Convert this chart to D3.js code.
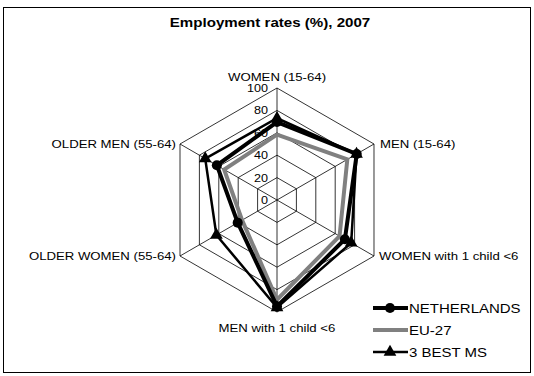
<!DOCTYPE html>
<html>
<head>
<meta charset="utf-8">
<script src="https://cdn.jsdelivr.net/npm/d3@7"></script>
<style>
  html, body { margin: 0; padding: 0; background: #fff; }
  svg { display: block; font-family: "Liberation Sans", Arial, sans-serif; }
</style>
</head>
<body>
<svg id="chart" width="534" height="376"></svg>
<script>
// Axes of the radar, clockwise from the top
const categories = [
  "WOMEN (15-64)",
  "MEN (15-64)",
  "WOMEN with 1 child <6",
  "MEN with 1 child <6",
  "OLDER WOMEN (55-64)",
  "OLDER MEN (55-64)"
];
const netherlands = [69.6, 82.2, 70.0, 95.0, 40.5, 62.0];
const eu27 = [58.3, 72.5, 64.5, 89.0, 36.0, 54.5];
const best3 = [73.0, 82.0, 76.5, 96.0, 62.5, 74.0];
const tickValues = [0, 20, 40, 60, 80, 100];
const seriesNames = ["NETHERLANDS", "EU-27", "3 BEST MS"];

const svg = d3.select("#chart");
const W = 534, H = 376;
const cx = 277, cy = 200;

// text drawn with a slightly wide set width
function addText(parent, x, y, str, size, anchor, opts = {}) {
  return parent.append("text")
    .attr("transform", `translate(${x},${y}) scale(${opts.sx || 1.2},1)`)
    .attr("text-anchor", anchor)
    .attr("font-size", size)
    .attr("font-weight", opts.bold ? "bold" : null)
    .attr("fill", "#000")
    .text(str);
}

// outer frame
svg.append("rect")
  .attr("x", 3.5).attr("y", 7.5).attr("width", W - 7).attr("height", H - 11)
  .attr("fill", "none").attr("stroke", "#000").attr("stroke-width", 1);

addText(svg, 270, 27, "Employment rates (%), 2007", 12, "middle", { bold: true, sx: 1.26 });

const r = d3.scaleLinear().domain([0, 100]).range([0, 112]);
const angle = d3.scalePoint().domain(categories).range([0, 300]);
const point = (cat, v) => {
  const a = angle(cat) * Math.PI / 180;
  return [cx + r(v) * Math.sin(a), cy - r(v) * Math.cos(a)];
};

const g = svg.append("g");

// concentric hexagon rings
tickValues.filter(t => t > 0).forEach(t => {
  g.append("path")
    .attr("d", d3.line()(categories.map(c => point(c, t))) + "Z")
    .attr("fill", "none").attr("stroke", "#000").attr("stroke-width", 0.8);
});
// spokes
categories.forEach(c => {
  const [x, y] = point(c, 100);
  g.append("line").attr("x1", cx).attr("y1", cy).attr("x2", x).attr("y2", y)
    .attr("stroke", "#000").attr("stroke-width", 0.8);
});

// ring labels along the top spoke
tickValues.forEach(t => {
  const [x, y] = point(categories[0], t);
  addText(g, x - 9, y + 4, t, 10.5, "end");
});

// category labels
const labelPos = [
  { dx: 0, dy: -7, anchor: "middle" },
  { dx: 6, dy: 4, anchor: "start" },
  { dx: 5, dy: 4, anchor: "start" },
  { dx: 0, dy: 20, anchor: "middle" },
  { dx: -4, dy: 4, anchor: "end" },
  { dx: -4, dy: 4, anchor: "end" }
];
categories.forEach((c, i) => {
  const [x, y] = point(c, 100);
  addText(g, x + labelPos[i].dx, y + labelPos[i].dy, c, 11, labelPos[i].anchor);
});

const series = [
  { name: seriesNames[0], values: netherlands, color: "#000", width: 4, marker: "circle" },
  { name: seriesNames[1], values: eu27, color: "#808080", width: 4, marker: null },
  { name: seriesNames[2], values: best3, color: "#000", width: 2.5, marker: "triangle" }
];
const drawOrder = [series[1], series[2], series[0]];
const line = d3.line().curve(d3.curveLinearClosed);

const symbolFor = m => m === "circle"
  ? d3.symbol().type(d3.symbolCircle).size(80)
  : d3.symbol().type(d3.symbolTriangle).size(70);

drawOrder.forEach(s => {
  const pts = categories.map((c, i) => point(c, s.values[i]));
  g.append("path")
    .attr("d", line(pts))
    .attr("fill", "none").attr("stroke", s.color)
    .attr("stroke-width", s.width).attr("stroke-linejoin", "miter");
  if (s.marker) {
    pts.forEach(p => {
      g.append("path")
        .attr("d", symbolFor(s.marker)())
        .attr("transform", `translate(${p[0]},${p[1]})`)
        .attr("fill", "#000");
    });
  }
});

// legend
const legend = svg.append("g");
series.forEach((s, i) => {
  const y = 308 + i * 22;
  legend.append("line").attr("x1", 373).attr("x2", 408).attr("y1", y).attr("y2", y)
    .attr("stroke", s.color).attr("stroke-width", s.width);
  if (s.marker) {
    legend.append("path")
      .attr("d", symbolFor(s.marker)())
      .attr("transform", `translate(390,${y})`)
      .attr("fill", "#000");
  }
  addText(legend, 409, y + 4.5, s.name, 12.5, "start");
});
</script>
</body>
</html>
